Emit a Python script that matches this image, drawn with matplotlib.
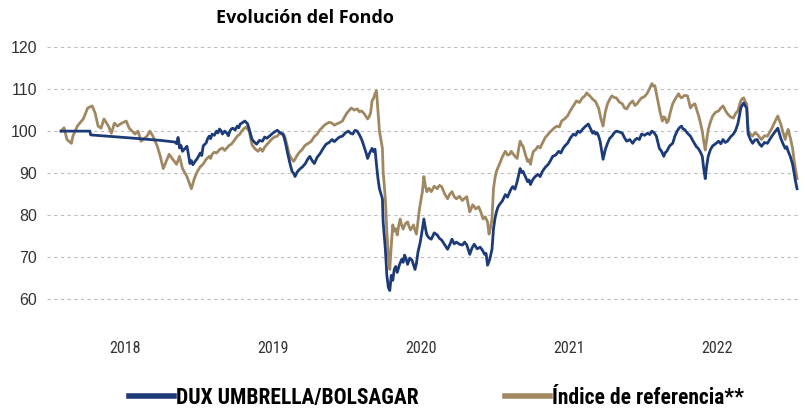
import matplotlib
matplotlib.use('Agg')
import matplotlib.pyplot as plt
from matplotlib import font_manager

# Fondo DUX UMBRELLA/BOLSAGAR, base 100: (año decimal, valor)
fondo = [
    (2018.07, 100.0), (2018.12, 100.0), (2018.18, 100.0), (2018.25, 100.0), (2018.265, 100.0),
    (2018.27, 99.1), (2018.53, 98.4), (2018.74, 97.8), (2018.84, 97.4), (2018.85, 97.0),
    (2018.86, 98.5), (2018.865, 97.6), (2018.87, 96.0), (2018.88, 96.6), (2018.89, 95.2),
    (2018.905, 95.8), (2018.92, 96.4), (2018.93, 94.5), (2018.94, 92.3), (2018.95, 93.0),
    (2018.96, 92.0), (2018.975, 92.8), (2018.99, 93.5), (2019.01, 94.8), (2019.02, 94.2),
    (2019.03, 96.5), (2019.05, 97.2), (2019.06, 98.2), (2019.07, 98.8), (2019.08, 98.2),
    (2019.09, 99.3), (2019.105, 99.0), (2019.12, 100.0), (2019.13, 99.6), (2019.14, 100.5),
    (2019.15, 100.1), (2019.16, 99.3), (2019.175, 100.0), (2019.19, 99.5), (2019.20, 98.9),
    (2019.21, 100.0), (2019.22, 100.5), (2019.23, 100.7), (2019.245, 100.3), (2019.26, 101.2),
    (2019.27, 100.8), (2019.28, 101.7), (2019.295, 102.0), (2019.31, 102.4), (2019.32, 102.1),
    (2019.33, 101.7), (2019.345, 99.9), (2019.36, 98.0), (2019.375, 97.4), (2019.39, 96.9),
    (2019.41, 97.8), (2019.43, 97.6), (2019.445, 98.6), (2019.46, 98.3), (2019.48, 98.9),
    (2019.50, 99.5), (2019.515, 99.9), (2019.53, 100.2), (2019.55, 99.6), (2019.57, 99.3),
    (2019.585, 97.3), (2019.60, 94.7), (2019.615, 92.4), (2019.63, 90.4), (2019.64, 90.0),
    (2019.65, 89.2), (2019.665, 90.3), (2019.68, 90.9), (2019.70, 91.5), (2019.72, 92.3),
    (2019.735, 93.3), (2019.75, 94.0), (2019.765, 93.0), (2019.78, 92.3), (2019.80, 93.8),
    (2019.82, 94.7), (2019.84, 95.9), (2019.86, 96.9), (2019.88, 97.3), (2019.90, 98.0),
    (2019.915, 97.5), (2019.93, 98.0), (2019.95, 98.6), (2019.97, 98.8), (2019.99, 99.6),
    (2020.01, 100.0), (2020.025, 99.5), (2020.04, 99.3), (2020.055, 100.2), (2020.07, 100.0),
    (2020.085, 99.1), (2020.10, 98.0), (2020.11, 97.0), (2020.12, 95.9), (2020.13, 94.8),
    (2020.14, 93.5), (2020.155, 94.9), (2020.17, 95.9), (2020.18, 95.1), (2020.19, 95.7),
    (2020.20, 92.0), (2020.21, 88.7), (2020.22, 86.3), (2020.24, 83.9), (2020.245, 78.4),
    (2020.26, 71.9), (2020.27, 65.7), (2020.28, 62.8), (2020.29, 62.1), (2020.30, 65.7),
    (2020.31, 64.5), (2020.32, 67.1), (2020.33, 67.8), (2020.34, 66.4), (2020.355, 68.2),
    (2020.37, 69.5), (2020.38, 68.8), (2020.39, 70.5), (2020.40, 69.6), (2020.41, 68.3),
    (2020.425, 69.8), (2020.44, 69.3), (2020.45, 68.2), (2020.46, 67.1), (2020.47, 68.6),
    (2020.48, 71.2), (2020.495, 73.5), (2020.51, 76.7), (2020.52, 79.1), (2020.53, 77.0),
    (2020.54, 75.3), (2020.555, 74.6), (2020.57, 74.3), (2020.59, 75.8), (2020.61, 75.3),
    (2020.625, 74.5), (2020.64, 74.1), (2020.66, 73.0), (2020.68, 71.9), (2020.695, 73.0),
    (2020.71, 74.3), (2020.725, 73.2), (2020.74, 73.6), (2020.76, 73.1), (2020.78, 72.9),
    (2020.795, 73.6), (2020.81, 72.9), (2020.82, 71.8), (2020.83, 70.7), (2020.845, 72.2),
    (2020.86, 73.1), (2020.88, 72.0), (2020.90, 72.4), (2020.915, 71.7), (2020.93, 70.7),
    (2020.94, 70.9), (2020.95, 68.1), (2020.965, 69.5), (2020.98, 71.9), (2020.99, 76.7),
    (2021.00, 79.2), (2021.01, 80.8), (2021.02, 81.9), (2021.03, 82.5), (2021.05, 83.4),
    (2021.07, 84.9), (2021.085, 84.3), (2021.10, 85.6), (2021.11, 86.3), (2021.12, 86.8),
    (2021.135, 86.2), (2021.15, 88.0), (2021.16, 89.6), (2021.17, 91.1), (2021.18, 90.2),
    (2021.19, 90.4), (2021.205, 89.2), (2021.22, 88.0), (2021.23, 88.4), (2021.24, 87.3),
    (2021.25, 88.1), (2021.26, 88.7), (2021.275, 89.3), (2021.29, 89.7), (2021.305, 89.2),
    (2021.32, 90.4), (2021.34, 91.4), (2021.36, 92.1), (2021.375, 93.0), (2021.39, 94.0),
    (2021.41, 94.3), (2021.43, 95.2), (2021.445, 94.8), (2021.46, 95.9), (2021.475, 96.6),
    (2021.49, 97.1), (2021.51, 98.4), (2021.53, 99.3), (2021.545, 99.0), (2021.56, 100.0),
    (2021.575, 99.7), (2021.59, 100.4), (2021.61, 101.1), (2021.63, 101.7), (2021.645, 100.6),
    (2021.66, 99.5), (2021.67, 99.9), (2021.68, 99.3), (2021.69, 99.6), (2021.70, 98.8),
    (2021.71, 97.6), (2021.72, 95.5), (2021.73, 93.3), (2021.745, 95.6), (2021.76, 97.1),
    (2021.775, 98.3), (2021.79, 98.8), (2021.805, 99.6), (2021.82, 100.0), (2021.84, 99.8),
    (2021.86, 99.5), (2021.875, 98.4), (2021.89, 97.6), (2021.91, 98.0), (2021.93, 97.1),
    (2021.945, 97.9), (2021.96, 98.3), (2021.975, 98.0), (2021.99, 99.3), (2022.01, 99.0),
    (2022.03, 99.5), (2022.045, 99.2), (2022.06, 100.0), (2022.075, 99.6), (2022.09, 98.8),
    (2022.10, 97.4), (2022.11, 95.9), (2022.125, 95.2), (2022.14, 94.0), (2022.15, 94.9),
    (2022.16, 95.2), (2022.18, 96.5), (2022.20, 97.1), (2022.215, 98.8), (2022.23, 100.0),
    (2022.245, 100.8), (2022.26, 101.2), (2022.27, 100.5), (2022.28, 100.4), (2022.30, 99.5),
    (2022.32, 98.8), (2022.335, 97.8), (2022.35, 96.9), (2022.36, 96.3), (2022.37, 96.0),
    (2022.385, 95.2), (2022.40, 94.0), (2022.41, 91.0), (2022.42, 88.7), (2022.43, 91.8),
    (2022.44, 94.0), (2022.455, 95.6), (2022.47, 96.5), (2022.49, 97.0), (2022.51, 97.6),
    (2022.525, 97.0), (2022.54, 98.0), (2022.555, 97.3), (2022.57, 97.6), (2022.59, 98.6),
    (2022.61, 99.3), (2022.625, 100.2), (2022.64, 101.7), (2022.65, 103.5), (2022.66, 105.5),
    (2022.67, 106.2), (2022.68, 106.7), (2022.69, 106.0), (2022.70, 105.5), (2022.705, 102.0),
    (2022.71, 99.3), (2022.725, 98.0), (2022.74, 97.1), (2022.755, 97.9), (2022.77, 98.0),
    (2022.785, 97.0), (2022.80, 96.4), (2022.82, 97.3), (2022.84, 97.1), (2022.855, 98.0),
    (2022.87, 98.8), (2022.89, 99.8), (2022.91, 100.7), (2022.92, 99.5), (2022.93, 98.3),
    (2022.945, 97.0), (2022.96, 95.9), (2022.97, 96.3), (2022.98, 95.2), (2022.995, 93.9),
    (2023.01, 92.1), (2023.02, 90.0), (2023.03, 88.0), (2023.04, 86.3),
]

# Índice de referencia, base 100: (año decimal, valor)
indice = [
    (2018.07, 100.0), (2018.09, 100.8), (2018.11, 98.0), (2018.14, 97.1), (2018.15, 98.8),
    (2018.18, 101.2), (2018.22, 102.9), (2018.25, 105.5), (2018.28, 106.0), (2018.30, 104.3),
    (2018.32, 101.2), (2018.34, 100.7), (2018.36, 102.9), (2018.39, 101.2), (2018.41, 99.5),
    (2018.43, 101.9), (2018.45, 101.2), (2018.48, 101.9), (2018.51, 102.4), (2018.53, 100.7),
    (2018.57, 99.3), (2018.59, 100.0), (2018.61, 97.6), (2018.65, 98.8), (2018.67, 100.0),
    (2018.69, 98.8), (2018.72, 96.4), (2018.74, 94.0), (2018.76, 91.1), (2018.78, 92.8),
    (2018.80, 94.5), (2018.82, 93.5), (2018.85, 92.1), (2018.87, 94.0), (2018.89, 91.1),
    (2018.92, 89.2), (2018.94, 87.3), (2018.95, 86.3), (2018.97, 88.7), (2018.99, 90.4),
    (2019.01, 91.5), (2019.03, 92.2), (2019.05, 93.3), (2019.07, 94.0), (2019.08, 93.5),
    (2019.09, 94.5), (2019.105, 95.0), (2019.12, 94.8), (2019.14, 95.6), (2019.16, 96.0),
    (2019.175, 95.4), (2019.19, 96.0), (2019.205, 96.6), (2019.22, 96.9), (2019.24, 97.8),
    (2019.26, 98.8), (2019.275, 99.2), (2019.29, 100.0), (2019.305, 100.6), (2019.32, 101.0),
    (2019.33, 100.4), (2019.34, 100.2), (2019.35, 98.3), (2019.36, 96.7), (2019.38, 95.8),
    (2019.40, 95.2), (2019.415, 95.9), (2019.43, 95.2), (2019.445, 96.2), (2019.46, 96.8),
    (2019.475, 97.4), (2019.49, 98.0), (2019.51, 98.6), (2019.53, 98.8), (2019.545, 99.5),
    (2019.56, 99.3), (2019.57, 99.0), (2019.58, 98.8), (2019.595, 96.8), (2019.61, 94.5),
    (2019.625, 93.5), (2019.64, 92.8), (2019.65, 93.3), (2019.66, 94.0), (2019.68, 95.0),
    (2019.70, 95.7), (2019.715, 96.5), (2019.73, 96.9), (2019.745, 97.2), (2019.76, 97.6),
    (2019.78, 98.7), (2019.80, 99.3), (2019.815, 100.2), (2019.83, 100.7), (2019.845, 101.3),
    (2019.86, 101.7), (2019.88, 102.1), (2019.90, 101.9), (2019.915, 101.4), (2019.93, 101.7),
    (2019.95, 102.0), (2019.97, 102.4), (2019.985, 103.4), (2020.00, 104.3), (2020.015, 104.9),
    (2020.03, 105.5), (2020.05, 105.0), (2020.07, 105.3), (2020.085, 104.6), (2020.10, 104.8),
    (2020.12, 104.0), (2020.14, 102.9), (2020.15, 103.4), (2020.16, 104.3), (2020.17, 107.2),
    (2020.18, 107.8), (2020.19, 108.9), (2020.20, 109.6), (2020.21, 104.8), (2020.22, 100.0),
    (2020.24, 95.9), (2020.245, 90.4), (2020.26, 83.9), (2020.27, 76.0), (2020.28, 70.5),
    (2020.29, 67.1), (2020.30, 72.9), (2020.31, 77.7), (2020.32, 76.2), (2020.33, 76.8),
    (2020.34, 75.3), (2020.35, 77.5), (2020.36, 79.1), (2020.37, 77.6), (2020.38, 76.7),
    (2020.395, 78.0), (2020.41, 78.4), (2020.42, 77.3), (2020.43, 76.5), (2020.44, 77.1),
    (2020.45, 77.7), (2020.46, 76.4), (2020.47, 75.5), (2020.48, 78.6), (2020.49, 81.5),
    (2020.50, 83.6), (2020.51, 85.6), (2020.52, 89.2), (2020.53, 87.0), (2020.54, 85.6),
    (2020.555, 86.4), (2020.57, 85.6), (2020.59, 86.9), (2020.61, 86.3), (2020.625, 87.1),
    (2020.64, 86.8), (2020.66, 85.1), (2020.68, 83.9), (2020.695, 85.0), (2020.71, 85.6),
    (2020.725, 84.4), (2020.74, 83.9), (2020.76, 84.5), (2020.78, 83.5), (2020.795, 84.0),
    (2020.81, 84.4), (2020.82, 82.4), (2020.83, 80.8), (2020.84, 81.6), (2020.85, 82.5),
    (2020.87, 81.5), (2020.89, 82.0), (2020.905, 80.7), (2020.92, 79.1), (2020.935, 79.6),
    (2020.95, 78.4), (2020.96, 75.5), (2020.97, 77.0), (2020.98, 79.1), (2020.99, 86.3),
    (2021.00, 88.8), (2021.01, 90.4), (2021.02, 91.3), (2021.03, 92.1), (2021.05, 93.9),
    (2021.07, 95.2), (2021.085, 94.3), (2021.10, 94.5), (2021.11, 95.2), (2021.12, 94.7),
    (2021.135, 94.0), (2021.15, 93.5), (2021.16, 95.8), (2021.17, 97.6), (2021.18, 96.8),
    (2021.19, 96.4), (2021.205, 94.5), (2021.22, 92.8), (2021.23, 93.2), (2021.24, 92.1),
    (2021.25, 94.0), (2021.26, 95.2), (2021.275, 95.6), (2021.29, 96.4), (2021.305, 96.0),
    (2021.32, 97.1), (2021.34, 98.5), (2021.36, 99.3), (2021.375, 99.9), (2021.39, 100.4),
    (2021.405, 100.9), (2021.42, 101.2), (2021.435, 101.0), (2021.45, 102.4), (2021.47, 102.9),
    (2021.49, 103.6), (2021.505, 104.6), (2021.52, 105.5), (2021.535, 106.3), (2021.55, 107.2),
    (2021.57, 106.8), (2021.59, 107.9), (2021.605, 108.3), (2021.62, 109.1), (2021.63, 108.7),
    (2021.64, 108.4), (2021.66, 107.6), (2021.68, 107.0), (2021.69, 106.2), (2021.70, 105.5),
    (2021.715, 103.0), (2021.73, 101.2), (2021.745, 104.5), (2021.76, 106.5), (2021.775, 107.6),
    (2021.79, 108.4), (2021.805, 108.0), (2021.82, 107.9), (2021.84, 106.9), (2021.86, 106.5),
    (2021.875, 105.5), (2021.89, 105.3), (2021.91, 106.5), (2021.93, 107.2), (2021.945, 106.1),
    (2021.96, 106.5), (2021.975, 107.3), (2021.99, 107.9), (2022.01, 108.2), (2022.03, 109.1),
    (2022.045, 110.2), (2022.06, 111.3), (2022.07, 110.7), (2022.08, 110.8), (2022.09, 109.0),
    (2022.10, 107.2), (2022.115, 104.5), (2022.13, 102.4), (2022.14, 103.4), (2022.15, 103.1),
    (2022.16, 102.0), (2022.17, 102.4), (2022.185, 104.6), (2022.20, 106.5), (2022.22, 107.8),
    (2022.24, 108.9), (2022.25, 108.2), (2022.26, 107.9), (2022.28, 108.5), (2022.30, 108.4),
    (2022.31, 107.0), (2022.32, 105.5), (2022.335, 106.2), (2022.35, 106.5), (2022.365, 104.8),
    (2022.38, 103.1), (2022.39, 101.6), (2022.40, 100.0), (2022.41, 97.5), (2022.42, 95.5),
    (2022.43, 98.0), (2022.44, 100.3), (2022.455, 102.2), (2022.47, 103.6), (2022.49, 104.5),
    (2022.51, 104.8), (2022.525, 105.5), (2022.54, 106.0), (2022.555, 105.0), (2022.57, 104.1),
    (2022.59, 103.4), (2022.61, 103.1), (2022.625, 104.2), (2022.64, 104.8), (2022.65, 106.0),
    (2022.66, 107.2), (2022.67, 107.7), (2022.68, 107.9), (2022.69, 107.0), (2022.70, 106.5),
    (2022.705, 103.0), (2022.71, 100.0), (2022.725, 99.3), (2022.74, 98.8), (2022.755, 99.6),
    (2022.77, 99.3), (2022.785, 98.6), (2022.80, 98.0), (2022.82, 98.9), (2022.84, 98.8),
    (2022.855, 99.7), (2022.87, 100.7), (2022.89, 102.2), (2022.91, 103.6), (2022.92, 102.6),
    (2022.93, 101.7), (2022.945, 99.7), (2022.96, 98.0), (2022.97, 99.5), (2022.98, 100.4),
    (2022.995, 98.3), (2023.01, 95.9), (2023.02, 93.0), (2023.03, 90.9), (2023.04, 88.7),
]

years = ['2018', '2019', '2020', '2021', '2022']
y_ticks = [60, 70, 80, 90, 100, 110, 120]
labels = ['DUX UMBRELLA/BOLSAGAR', 'Índice de referencia**']

fondo_t, fondo_v = zip(*fondo)
indice_t, indice_v = zip(*indice)

# condensed face for legend and year labels, if there is one
installed = {f.name for f in font_manager.fontManager.ttflist}
narrow, legend_size, year_size = 'Liberation Sans', 13, 10
for name, lsize, ysize in [('Liberation Sans Narrow', 16, 11.5),
                           ('Roboto Condensed', 15.5, 11.5),
                           ('DejaVu Sans Condensed', 13.5, 10)]:
    if name in installed:
        narrow, legend_size, year_size = name, lsize, ysize
        break

color_fondo = '#1c3b78'
color_indice = '#a08862'

fig = plt.figure(figsize=(8.05, 4.08), dpi=100)
ax = fig.add_axes([0.058, 0.184, 0.936, 0.711])

ax.plot(indice_t, indice_v, color=color_indice, lw=2.0, zorder=3)
ax.plot(fondo_t, fondo_v, color=color_fondo, lw=2.0, zorder=4)

ax.set_xlim(2017.973, 2023.061)
ax.set_ylim(52, 121)
ax.set_yticks(y_ticks)
ax.set_yticklabels([str(v) for v in y_ticks], fontsize=11.5, color='#333333',
                   family='Liberation Sans')
ax.set_xticks([int(y) + 0.5 for y in years])
ax.set_xticklabels(years, fontsize=year_size, color='#333333', family=narrow)
ax.tick_params(axis='both', length=0)
ax.tick_params(axis='x', pad=6)
ax.tick_params(axis='y', pad=7)
for s in ax.spines.values():
    s.set_visible(False)
ax.grid(axis='y', color='#bdbdbd', linestyle=(0, (3, 3)), linewidth=0.8, zorder=0)

fig.text(0.379, 0.955, 'Evolución del Fondo', fontsize=13, fontweight='bold',
         ha='center', va='center', family='Open Sans')

handles = [plt.Line2D([], [], color=color_fondo, lw=4),
           plt.Line2D([], [], color=color_indice, lw=4)]
fig.legend(handles, labels, loc='center', bbox_to_anchor=(0.542, 0.025), ncol=2,
           frameon=False, handlelength=2.1, handletextpad=0.1, columnspacing=4.0,
           borderpad=0, prop={'family': narrow, 'weight': 'bold', 'size': legend_size})

fig.savefig('out.png', dpi=100)
